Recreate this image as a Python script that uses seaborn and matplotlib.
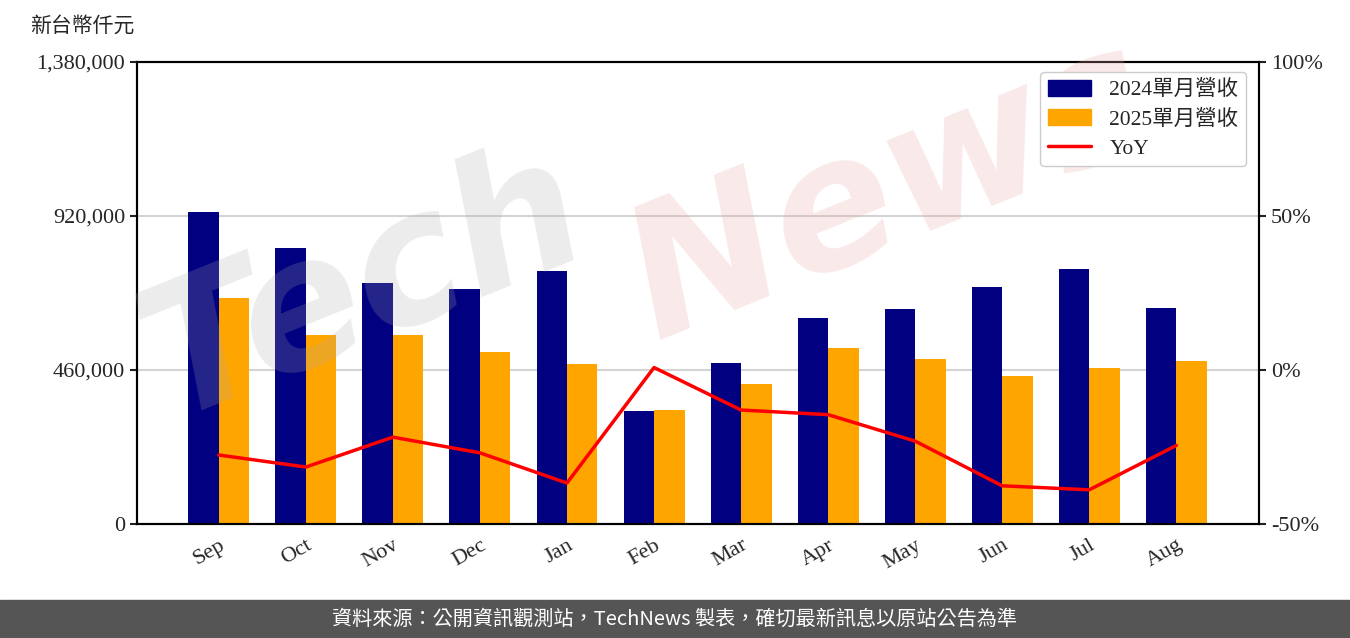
import matplotlib
matplotlib.use('Agg')
import matplotlib.pyplot as plt
import pandas as pd
import seaborn as sns
import numpy as np
from matplotlib.patches import Patch, Rectangle
from matplotlib.lines import Line2D
from matplotlib.ticker import FuncFormatter

# Data (NT$ thousand)
months = ['Sep', 'Oct', 'Nov', 'Dec', 'Jan', 'Feb', 'Mar', 'Apr', 'May', 'Jun', 'Jul', 'Aug']
rev_2024 = [931900, 824400, 719900, 701900, 755700, 337500, 480900, 615300, 642200, 707900, 761700, 645200]
rev_2025 = [675100, 564500, 564500, 513800, 477900, 340500, 418200, 525700, 492900, 442100, 466000, 486900]
yoy = [-27.6, -31.5, -21.8, -26.9, -36.7, 0.8, -13.0, -14.5, -23.1, -37.6, -38.9, -24.5]
series_names = ['2024單月營收', '2025單月營收']

sns.set_style('white')
plt.rcParams['font.family'] = ['Liberation Serif', 'Noto Sans CJK TC']
plt.rcParams['axes.unicode_minus'] = False

df = pd.DataFrame({
    'month': months * 2,
    'revenue': rev_2024 + rev_2025,
    'series': [series_names[0]] * len(months) + [series_names[1]] * len(months),
})

fig = plt.figure(figsize=(13.5, 6.38), dpi=100)
ax = fig.add_axes([137 / 1350, 1 - 524 / 638, (1259 - 137) / 1350, (524 - 62) / 638])

sns.barplot(data=df, x='month', y='revenue', hue='series', order=months,
            palette=['#000080', '#FFA500'], width=0.7, saturation=1,
            linewidth=0, ax=ax, legend=False, zorder=2)

ax.set_xlim(-0.94, 11.95)
ax.set_ylim(0, 1380000)
ax.set_yticks([0, 460000, 920000, 1380000])
ax.yaxis.set_major_formatter(FuncFormatter(lambda v, p: f'{int(v):,}'))
ax.grid(axis='y', color='#d3d3d3', linewidth=1.5, zorder=0)
ax.set_axisbelow(True)
ax.set_xlabel('')
ax.set_ylabel('')
for s in ax.spines.values():
    s.set_color('black')
    s.set_linewidth(1.5)
ax.tick_params(axis='both', direction='out', length=5, width=1.5, labelsize=16, color='#222222')
for lab in ax.get_xticklabels():
    lab.set_rotation(30)
    lab.set_ha('right')
    lab.set_rotation_mode('anchor')

ax2 = ax.twinx()
sns.lineplot(x=np.arange(len(months)), y=yoy, color='red', linewidth=2.5, ax=ax2, zorder=3)
ax2.set_ylim(-50, 100)
ax2.set_yticks([-50, 0, 50, 100])
ax2.yaxis.set_major_formatter(FuncFormatter(lambda v, p: f'{int(v)}%'))
ax2.tick_params(axis='y', direction='out', length=5, width=1.5, labelsize=16, color='#222222')
ax2.set_xlim(-0.94, 11.95)
for s in ax2.spines.values():
    s.set_color('black')
    s.set_linewidth(1.5)

# watermark, under the legend
ax2.text(0.27, 0.55, 'Tech', transform=fig.transFigure, fontsize=130, color='#aaaaaa',
         alpha=0.22, rotation=22, ha='center', va='center', style='italic',
         family='DejaVu Sans', weight='bold', zorder=4)
ax2.text(0.66, 0.70, 'News', transform=fig.transFigure, fontsize=130, color='#e8a8a8',
         alpha=0.25, rotation=22, ha='center', va='center', style='italic',
         family='DejaVu Sans', weight='bold', zorder=4)

handles = [Patch(color='#000080'), Patch(color='#FFA500'),
           Line2D([0], [0], color='red', linewidth=2.5)]
leg = ax2.legend(handles, series_names + ['YoY'], loc='upper right', fontsize=15.5,
                 frameon=True, fancybox=True, edgecolor='#cccccc', framealpha=1,
                 handlelength=2.0, handleheight=0.8, handletextpad=0.85, borderpad=0.35,
                 labelspacing=0.4, borderaxespad=0,
                 bbox_to_anchor=((1246 - 137) / 1122, (524 - 72) / 462))
leg.set_zorder(10)

fig.text(30 / 1350, 1 - 27 / 638, '新台幣仟元', fontsize=15, va='center', ha='left')

# footer
fig.patches.append(Rectangle((0, 0), 1, 38 / 638, transform=fig.transFigure,
                             color='#555555', zorder=0))
fig.text(0.5, 19 / 638, '資料來源：公開資訊觀測站，TechNews 製表，確切最新訊息以原站公告為準',
         fontsize=14.5, color='white', ha='center', va='center',
         family=['Noto Sans CJK TC', 'DejaVu Sans'])

fig.savefig('out.png', dpi=100)
